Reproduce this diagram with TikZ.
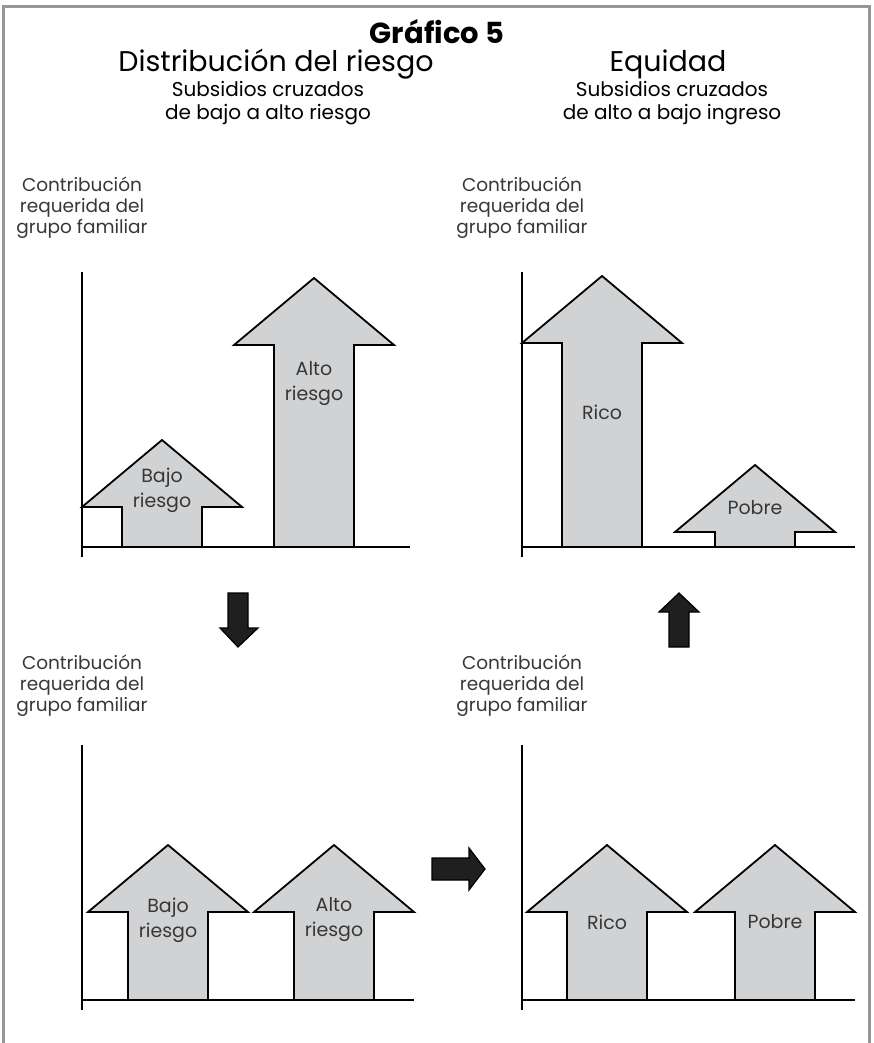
\documentclass[tikz,border=0pt]{standalone}
\usepackage{fontspec}
\setmainfont{Poppins}
\usetikzlibrary{positioning}

\definecolor{arrowgray}{RGB}{209,210,212}
\definecolor{framegray}{RGB}{150,150,150}
\definecolor{textgray}{RGB}{55,55,55}

\tikzset{
  axisline/.style={line width=2pt},
  blockarrow/.style={draw=black, line width=1.8pt, fill=arrowgray, line join=miter},
  darkarrow/.style={draw=black, line width=1.2pt, fill=black!88},
  ylabel/.style={align=center, text=textgray, font=\fontsize{18.5}{21}\selectfont, inner sep=0pt},
  arrowlabel/.style={align=center, text=textgray, font=\fontsize{19}{25}\selectfont, inner sep=0pt},
  heading/.style={font=\fontsize{28.5}{30}\selectfont, inner sep=0pt},
  subheading/.style={align=center, font=\fontsize{20}{23}\selectfont, inner sep=0pt},
}

% #1 centre x, #2 shoulder y, #3 base y
\newcommand{\riskarrow}[3]{%
  \draw[blockarrow] (#1-40,#3) -- (#1-40,#2) -- (#1-80,#2) -- (#1,#2-67)
    -- (#1+80,#2) -- (#1+40,#2) -- (#1+40,#3) -- cycle;}

\begin{document}
\begin{tikzpicture}[x=1pt, y=-1pt]
  \useasboundingbox (0,0) rectangle (873,1043);
  \draw[framegray, line width=3pt] (3,1043) -- (3,7) -- (869,7) -- (869,1043);

  % headings
  \node[font=\bfseries\fontsize{29}{30}\selectfont, inner sep=0pt] (title) at (437,32) {Gráfico 5};
  \node[heading] (riskhead) at (276,64) {Distribución del riesgo};
  \node[subheading, below=2pt of riskhead.south, xshift=-8pt] (risksub) {Subsidios cruzados\\de bajo a alto riesgo};
  \node[heading] (equityhead) at (668,64) {Equidad};
  \node[subheading, below=2pt of equityhead.south, xshift=4pt] (equitysub) {Subsidios cruzados\\de alto a bajo ingreso};

  % top left: risk before
  \node[ylabel] (ylabA) at (82,208) {Contribución\\requerida del\\grupo familiar};
  \riskarrow{162}{507}{547}
  \riskarrow{314}{345}{547}
  \draw[axisline] (82,272) -- (82,557);
  \draw[axisline] (82,547) -- (410,547);
  \node[arrowlabel] (lowA) at (162,490) {Bajo\\riesgo};
  \node[arrowlabel] (highA) at (314,384) {Alto\\riesgo};

  % top right: equity result
  \node[ylabel] (ylabB) at (522,208) {Contribución\\requerida del\\grupo familiar};
  \riskarrow{602}{343}{547}
  \riskarrow{755}{532}{547}
  \draw[axisline] (522,272) -- (522,557);
  \draw[axisline] (522,547) -- (855,547);
  \node[arrowlabel] (richB) at (602,412) {Rico};
  \node[arrowlabel] (poorB) at (755,508) {Pobre};

  % bottom left: community rating
  \node[ylabel] (ylabC) at (82,686) {Contribución\\requerida del\\grupo familiar};
  \riskarrow{168}{912}{1000}
  \riskarrow{334}{912}{1000}
  \draw[axisline] (82,745) -- (82,1010);
  \draw[axisline] (82,1000) -- (414,1000);
  \node[arrowlabel] (lowC) at (168,920) {Bajo\\riesgo};
  \node[arrowlabel] (highC) at (334,920) {Alto\\riesgo};

  % bottom right: income groups
  \node[ylabel] (ylabD) at (522,686) {Contribución\\requerida del\\grupo familiar};
  \riskarrow{607}{912}{1000}
  \riskarrow{775}{912}{1000}
  \draw[axisline] (522,745) -- (522,1010);
  \draw[axisline] (522,1000) -- (855,1000);
  \node[arrowlabel] (richD) at (607,922) {Rico};
  \node[arrowlabel] (poorD) at (775,922) {Pobre};

  % transitions
  \draw[darkarrow] (228,593) -- (248,593) -- (248,628) -- (258,628) -- (238,647)
    -- (220,628) -- (228,628) -- cycle;
  \draw[darkarrow] (432,858) -- (469,858) -- (469,848) -- (485,869) -- (469,890)
    -- (469,880) -- (432,880) -- cycle;
  \draw[darkarrow] (669,647) -- (669,612) -- (659,612) -- (679,593) -- (699,612)
    -- (689,612) -- (689,647) -- cycle;
\end{tikzpicture}
\end{document}
